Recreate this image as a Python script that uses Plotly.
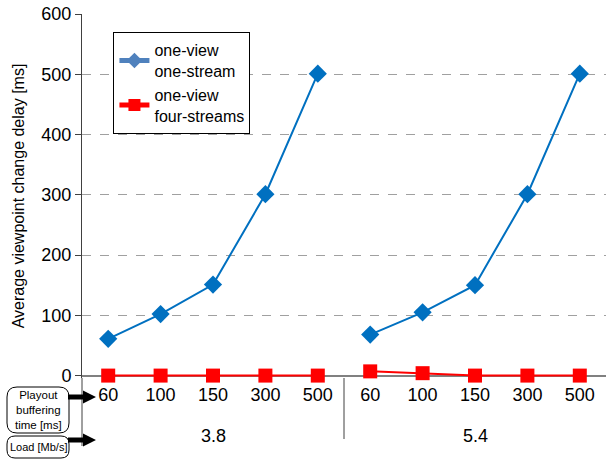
import plotly.graph_objects as go

loads = ["3.8", "5.4"]
buffering = ["60", "100", "150", "300", "500"]
one_stream = {"3.8": [61, 102, 151, 301, 501], "5.4": [68, 105, 150, 301, 501]}
four_streams = {"3.8": [0, 0, 0, 0, 0], "5.4": [7, 4, 0, 0, 0]}
y_ticks = [0, 100, 200, 300, 400, 500, 600]

W, H = 606, 460
L, R, T, B = 82, 0, 14, 82
Y_MIN, Y_MAX = -4, 600

n = len(buffering)
tick_pos = []
tick_text = []
group_center = []

fig = go.Figure()
for g, ld in enumerate(loads):
    xs = [g * n + i for i in range(n)]
    tick_pos += xs
    tick_text += buffering
    group_center.append(g * n + (n - 1) / 2)
    fig.add_trace(go.Scatter(x=xs, y=one_stream[ld], mode="lines+markers",
                             line=dict(color="#0070C0", width=2),
                             marker=dict(symbol="diamond", size=14, color="#0070C0"),
                             showlegend=False, cliponaxis=False))
    fig.add_trace(go.Scatter(x=xs, y=four_streams[ld], mode="lines+markers",
                             line=dict(color="#FF0000", width=2),
                             marker=dict(symbol="square", size=14, color="#FF0000"),
                             showlegend=False, cliponaxis=False))

fig.add_trace(go.Scatter(x=[None], y=[None], mode="lines+markers",
                         name="one-view<br>one-stream",
                         line=dict(color="#4F81BD", width=1.5),
                         marker=dict(symbol="diamond", size=12, color="#4F81BD")))
fig.add_trace(go.Scatter(x=[None], y=[None], mode="lines+markers",
                         name="one-view<br>four-streams",
                         line=dict(color="#FF0000", width=1.5),
                         marker=dict(symbol="square", size=12, color="#FF0000")))

fig.update_layout(
    width=W, height=H,
    margin=dict(l=L, r=R, t=T, b=B),
    paper_bgcolor="white", plot_bgcolor="white",
    font=dict(family="Liberation Sans, Arial, sans-serif", color="#000000", size=16),
    legend=dict(x=0.06, y=0.95, xanchor="left", yanchor="top",
                bordercolor="#000000", borderwidth=1, bgcolor="white",
                font=dict(size=16), tracegroupgap=0, itemsizing="constant"),
    xaxis=dict(range=[-0.5, len(loads) * n - 0.5], tickvals=tick_pos, ticktext=tick_text,
               showgrid=False, showline=False, ticks="", zeroline=False,
               tickfont=dict(size=18), ticklabelstandoff=4),
    yaxis=dict(range=[Y_MIN, Y_MAX], tickvals=y_ticks, showgrid=True,
               gridcolor="#A0A0A0", griddash="dash", gridwidth=1,
               showline=True, linecolor="#404040", linewidth=1,
               ticks="outside", ticklen=6, tickcolor="#404040",
               zeroline=True, zerolinecolor="#808080", zerolinewidth=2,
               tickfont=dict(size=18),
               title=dict(text="Average viewpoint change delay [ms]",
                          font=dict(size=16), standoff=12)),
)

ph = H - T - B
pw = W - L - R


def px2paper(xp, yp):
    return (xp - L) / pw, (H - B - yp) / ph


# extend y-axis line below the plot
_, yb = px2paper(0, 446)
fig.add_shape(type="line", xref="paper", yref="paper", x0=0, x1=0,
              y0=0, y1=yb, line=dict(color="#404040", width=1))

# group separator
_, ys = px2paper(0, 439)
for g in range(1, len(loads)):
    fig.add_shape(type="line", xref="x", yref="paper", x0=g * n - 0.5, x1=g * n - 0.5,
                  y0=0, y1=ys, line=dict(color="#404040", width=1))

# load labels
_, yl = px2paper(0, 436)
for g, ld in enumerate(loads):
    fig.add_annotation(xref="x", yref="paper", x=group_center[g], y=yl, text=ld,
                       showarrow=False, font=dict(size=18), yanchor="middle")


def box_path(x0, y0, x1, y1, r):
    ax0, ay0 = px2paper(x0, y0)
    ax1, ay1 = px2paper(x1, y1)
    rx = r / pw
    ry = r / ph
    return (f"M{ax0 + rx},{ay0} L{ax1 - rx},{ay0} Q{ax1},{ay0} {ax1},{ay0 - ry} "
            f"L{ax1},{ay1 + ry} Q{ax1},{ay1} {ax1 - rx},{ay1} L{ax0 + rx},{ay1} "
            f"Q{ax0},{ay1} {ax0},{ay1 + ry} L{ax0},{ay0 - ry} Q{ax0},{ay0} {ax0 + rx},{ay0} Z")


def arrow_path(x0, x1, yc):
    pts = [(x0, yc - 2.5), (x1 - 13, yc - 2.5), (x1 - 13, yc - 6.5), (x1, yc),
           (x1 - 13, yc + 6.5), (x1 - 13, yc + 2.5), (x0, yc + 2.5)]
    conv = [px2paper(a, b) for a, b in pts]
    return "M" + " L".join(f"{a},{b}" for a, b in conv) + " Z"


fig.add_shape(type="path", xref="paper", yref="paper",
              path=box_path(7, 387, 69, 433, 10), line=dict(color="#000000", width=1),
              fillcolor="white")
fig.add_shape(type="path", xref="paper", yref="paper",
              path=box_path(7, 436, 69, 458, 8), line=dict(color="#000000", width=1),
              fillcolor="white")

for yp in (397, 440):
    fig.add_shape(type="path", xref="paper", yref="paper",
                  path=arrow_path(68, 96, yp), line=dict(width=0), fillcolor="#000000")

cx, cy = px2paper(38, 410)
fig.add_annotation(xref="paper", yref="paper", x=cx, y=cy, showarrow=False,
                   text="Playout<br>buffering<br>time [ms]", font=dict(size=11.5),
                   xanchor="center", yanchor="middle")
cx, cy = px2paper(38, 447)
fig.add_annotation(xref="paper", yref="paper", x=cx, y=cy, showarrow=False,
                   text="Load [Mb/s]", font=dict(size=11),
                   xanchor="center", yanchor="middle")

fig.write_html("out.html")
